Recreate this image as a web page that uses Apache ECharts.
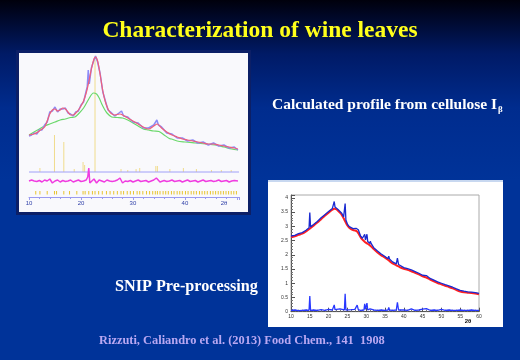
<!DOCTYPE html>
<html><head><meta charset="utf-8">
<script src="https://cdn.jsdelivr.net/npm/echarts@6/dist/echarts.min.js"></script>
<style>html,body{margin:0;padding:0;background:#003399}#c{width:520px;height:360px}</style>
</head><body><div id="c"></div>
<script>
// ---------- LEFT CHART (Rietveld-like profile), intensity in arbitrary units ----------
const leftTicks = ['10', '20', '30', '40'];
const leftCalc = [[10,62],[11,63],[12,66],[12.5,68],[13,70],[13.5,76],[14,83],[14.5,87],[15,88],[15.5,86],[16,87],[16.5,89],[17,88],[17.5,85],[18,82],[18.5,82],[19,84],[19.5,87],[20,91],[20.5,96],[21,104],[21.5,115],[22,128],[22.5,138],[22.8,140],[23.2,136],[23.7,122],[24.2,106],[24.7,95],[25.2,88],[25.7,84],[26.5,82],[27.5,83],[28,82],[29,79],[30,76],[31,73],[32,70],[33,68],[34,71],[34.7,73],[35.5,69],[36.5,65],[37.5,62],[38.5,60],[39.5,58],[40.5,57],[41.5,56],[42.5,55],[43.5,54],[44.5,53],[45.5,53],[46.5,52],[47.5,51],[48.5,50],[49.5,49],[50.2,48]];
const leftObs = [[10,61],[10.5,62],[11,64],[11.5,63],[12,67],[12.5,67],[13,72],[13.5,75],[14,85],[14.5,86],[15,90],[15.5,85],[16,88],[16.5,88],[17,89],[17.5,84],[18,83],[18.5,81],[19,85],[19.5,86],[20,92],[20.5,95],[21,106],[21.2,110],[21.4,127],[21.6,113],[22,129],[22.5,137],[22.8,141],[23.2,135],[23.7,123],[24.2,105],[24.7,96],[25.2,87],[25.7,85],[26.5,81],[27.3,84],[27.8,86],[28.2,81],[29,80],[30,75],[31,74],[32,69],[33,69],[34,72],[34.6,77],[34.9,72],[35.5,70],[36.5,64],[37.5,63],[38.5,59],[39.5,59],[40.5,56],[41.5,57],[42.5,54],[43.5,55],[44.5,52],[45.5,54],[46.5,51],[47.5,52],[48.5,49],[49.5,50],[50.2,47]];
const leftBkg = [[10,62],[12,68],[13,71],[14,73],[15,75],[16,77],[17,78],[18,79.5],[18.8,80],[19.5,83],[20.5,89],[21.5,98],[22.4,104],[23,103],[23.5,99],[24,93],[24.5,88],[25,84],[25.9,80],[27,79.5],[28,79],[29,77],[30,74],[31,71],[32,68],[33,67],[34,66],[35,65.5],[36,62],[37,58.5],[37.4,58],[38.5,56],[40,55],[42,54],[44,53],[45.8,52],[47.5,50],[49,48],[50.2,47]];
const leftDiff = [[10,16],[10.5,17],[11,16],[11.5,15.5],[12,16.5],[12.5,15],[13,17],[13.5,16],[14,18],[14.5,14],[15,16],[15.5,17],[16,15],[16.5,16.5],[17,15.5],[17.5,16],[18,17],[18.5,15],[19,16],[19.5,17],[20,15.5],[20.5,16],[21,17],[21.3,20],[21.5,29],[21.7,14],[22,15],[22.5,18],[23,14],[23.5,17],[24,16],[24.5,15],[25,17],[25.5,16],[26,15.5],[26.5,16],[27,17],[27.5,19],[28,14],[28.5,16],[29,15.5],[29.5,16.5],[30,15],[30.5,16],[31,17],[31.5,15.5],[32,16],[32.5,16.5],[33,15],[33.5,16],[34,17],[34.5,19],[34.8,20],[35.2,15],[35.5,16],[36,16.5],[36.5,15.5],[37,16],[37.5,17],[38,15.5],[38.5,16],[39,16.5],[39.5,15],[40,16],[40.5,17],[41,15.5],[41.5,16],[42,16.5],[42.5,15],[43,16],[43.5,17],[44,15.5],[44.5,16],[45,16.5],[45.5,15.5],[46,16],[46.5,17],[47,15.5],[47.5,16],[48,16.5],[48.5,15],[49,16],[49.5,16.5],[50.2,16]];
// calculated reflection intensities [2theta, height]
const leftSticks = [[12.1,4],[14.9,37],[16.7,30],[18.7,3],[20.4,10],[20.7,7],[22.7,114],[27.7,3],[29.0,2],[30.6,3],[31.3,4],[34.4,6],[34.7,6],[37.1,3],[39.7,4],[42.2,3],[45.1,2],[47.0,2],[48.9,2]];
// Bragg positions
const leftBragg = [11.3,12.1,13.5,14.9,15.3,16.7,17.8,19.2,20.4,20.8,21.5,22.2,22.7,23.4,24.1,24.9,25.6,26.3,27.0,27.7,28.2,28.9,29.5,30.1,30.8,31.3,31.9,32.6,33.2,33.8,34.3,34.7,35.2,35.8,36.3,36.8,37.4,37.9,38.5,39.0,39.5,40.1,40.6,41.2,41.7,42.2,42.8,43.3,43.8,44.3,44.9,45.4,45.9,46.4,46.9,47.4,47.9,48.4,48.9,49.4,49.9];
const stickBase = 25;

// ---------- RIGHT CHART (SNIP pre-processing) ----------
const rightYTicks = ['0','0.5','1','1.5','2','2.5','3','3.5','4'];
const rightXTicks = ['10','15','20','25','30','35','40','45','50','55','60'];
const rightFit = [[10,2.62],[11,2.65],[12,2.70],[13,2.74],[14,2.82],[15,2.92],[16,3.02],[17,3.13],[18,3.25],[19,3.37],[20,3.48],[21,3.58],[21.5,3.62],[22,3.60],[22.5,3.55],[23,3.48],[23.5,3.40],[24,3.28],[24.5,3.15],[25,3.03],[25.5,2.95],[26,2.90],[26.5,2.87],[27,2.85],[27.5,2.83],[28,2.74],[28.5,2.62],[29,2.53],[29.5,2.47],[30,2.42],[31,2.33],[32,2.20],[33,2.08],[34,1.98],[35,1.90],[36,1.80],[37,1.70],[38,1.63],[39,1.56],[40,1.51],[41,1.47],[42,1.42],[43,1.37],[44,1.31],[45,1.24],[46,1.20],[47,1.13],[48,1.07],[49,1.01],[50,0.96],[51,0.91],[52,0.87],[53,0.82],[54,0.76],[55,0.71],[56,0.68],[57,0.67],[58,0.66],[59,0.64],[60,0.61]];
const rightData = [[10,2.66],[10.5,2.70],[11,2.68],[11.5,2.71],[12,2.74],[12.5,2.75],[13,2.78],[13.5,2.80],[14,2.86],[14.5,2.92],[14.8,2.95],[15,3.48],[15.2,2.98],[15.5,3.00],[16,3.06],[16.5,3.12],[17,3.17],[17.5,3.24],[18,3.30],[18.5,3.37],[19,3.41],[19.5,3.48],[20,3.52],[20.5,3.57],[21,3.63],[21.3,3.70],[21.5,3.87],[21.7,3.68],[22,3.65],[22.5,3.59],[23,3.53],[23.5,3.46],[24,3.33],[24.2,3.30],[24.4,3.80],[24.6,3.22],[25,3.08],[25.5,2.99],[26,2.95],[26.5,2.92],[27,2.90],[27.3,2.93],[27.6,2.96],[27.9,2.88],[28.5,2.66],[29,2.58],[29.4,2.55],[29.6,2.72],[29.8,2.52],[30,2.50],[30.2,2.72],[30.4,2.47],[31,2.40],[31.1,2.48],[31.3,2.40],[32,2.25],[33,2.13],[34,2.03],[35,1.94],[35.8,1.86],[36,1.95],[36.2,1.85],[37,1.75],[38,1.68],[38.3,1.88],[38.6,1.66],[39,1.60],[40,1.55],[41,1.51],[42,1.47],[43,1.41],[44,1.35],[45,1.28],[46,1.27],[46.5,1.22],[47,1.17],[48,1.11],[49,1.05],[50,1.00],[51,0.95],[52,0.91],[53,0.86],[54,0.80],[55,0.75],[56,0.72],[57,0.70],[58,0.69],[59,0.67],[60,0.64]];
const rightPeaks = [[10,0.05],[11,0.06],[12,0.04],[13,0.05],[14,0.06],[14.8,0.05],[15,0.55],[15.2,0.05],[16,0.06],[17,0.05],[18,0.07],[19,0.05],[20,0.08],[21,0.06],[21.5,0.24],[21.7,0.07],[22,0.05],[23,0.10],[23.4,0.05],[24.2,0.06],[24.4,0.63],[24.6,0.06],[25,0.05],[26,0.07],[27,0.08],[27.6,0.23],[27.9,0.07],[28.5,0.05],[29.4,0.06],[29.6,0.28],[29.8,0.08],[30,0.06],[30.2,0.30],[30.4,0.06],[31,0.10],[31.1,0.16],[31.3,0.08],[32,0.06],[33,0.05],[34,0.06],[35,0.05],[35.8,0.06],[36,0.15],[36.2,0.06],[37,0.05],[38,0.06],[38.3,0.33],[38.6,0.06],[39,0.05],[40,0.06],[41,0.05],[42,0.10],[43,0.05],[44,0.06],[45,0.09],[46,0.11],[47,0.05],[48,0.06],[49,0.05],[50,0.08],[51,0.05],[52,0.06],[53,0.05],[54,0.05],[55,0.06],[56,0.05],[57,0.05],[58,0.06],[59,0.05],[60,0.05]];

// ---------- TEXTS ----------
const titleText = 'Characterization of wine leaves';
const subText = 'Calculated profile from cellulose I';
const subSub = 'β';
const snipText = 'SNIP Pre-processing';
const citeText = 'Rizzuti, Caliandro et al. (2013) Food Chem., 141  1908';

const SERIF = '"Liberation Serif", "DejaVu Serif", serif';
const mctx = document.createElement('canvas').getContext('2d');
mctx.font = 'bold 15.5px ' + SERIF;
const subW = mctx.measureText(subText).width;

const chart = echarts.init(document.getElementById('c'), null, {renderer: 'canvas'});

function stickItem(params, api) {
  const x = api.value(0), h = api.value(1);
  const p0 = api.coord([x, stickBase]);
  const p1 = api.coord([x, stickBase + h]);
  return {type: 'line', shape: {x1: p0[0], y1: p0[1], x2: p1[0], y2: p1[1]}, style: {stroke: '#f0dc8c', lineWidth: 1}};
}
function braggItem(params, api) {
  const x = api.value(0);
  const p0 = api.coord([x, 2.5]);
  const p1 = api.coord([x, 6]);
  return {type: 'line', shape: {x1: p0[0], y1: p0[1], x2: p1[0], y2: p1[1]}, style: {stroke: '#e8c430', lineWidth: 1}};
}

chart.setOption({
  animation: false,
  backgroundColor: {type: 'linear', x: 0, y: 0, x2: 0, y2: 1, colorStops: [
    {offset: 0, color: '#00000c'}, {offset: 0.06, color: '#000a30'}, {offset: 0.15, color: '#001a66'},
    {offset: 0.3, color: '#002c8e'}, {offset: 0.5, color: '#003399'}, {offset: 1, color: '#003399'}]},
  graphic: [
    {type: 'rect', z: -10, shape: {x: 16, y: 50, width: 235, height: 165}, style: {fill: '#0c1f66'}},
    {type: 'rect', z: -9, shape: {x: 19, y: 53, width: 229, height: 159}, style: {fill: '#f9f9fc'}},
    {type: 'rect', z: -10, shape: {x: 268, y: 180, width: 235, height: 147}, style: {fill: '#ffffff'}},
    {type: 'rect', z: -9, shape: {x: 268, y: 180, width: 235, height: 2}, style: {fill: '#c8d8f0'}},
    {type: 'text', x: 260, y: 31, style: {text: titleText, fill: '#ffff1a', font: 'bold 23.5px ' + SERIF, align: 'center', verticalAlign: 'middle', shadowColor: 'rgba(0,0,0,0.6)', shadowOffsetX: 1, shadowOffsetY: 1, shadowBlur: 1}},
    {type: 'text', x: 272, y: 105, style: {text: subText, fill: '#ffffff', font: 'bold 15.5px ' + SERIF, align: 'left', verticalAlign: 'middle'}},
    {type: 'text', x: 272 + subW + 1, y: 110, style: {text: subSub, fill: '#ffffff', font: 'bold 9px ' + SERIF, align: 'left', verticalAlign: 'middle'}},
    {type: 'text', x: 115, y: 287, style: {text: snipText, fill: '#ffffff', font: 'bold 16.2px ' + SERIF, align: 'left', verticalAlign: 'middle'}},
    {type: 'text', x: 99, y: 341, style: {text: citeText, fill: '#b9a8f2', font: 'bold 12.4px ' + SERIF, align: 'left', verticalAlign: 'middle'}},
    {type: 'text', x: 224, y: 203, style: {text: '2θ', fill: '#3040a8', font: '6px sans-serif', align: 'center', verticalAlign: 'middle'}},
    {type: 'text', x: 468, y: 321, style: {text: '2θ', fill: '#111111', font: 'bold 6px sans-serif', align: 'center', verticalAlign: 'middle'}}
  ],
  grid: [
    {left: 29, right: 281, top: 53, bottom: 163},
    {left: 291, right: 41, top: 195, bottom: 48.3, show: true, borderColor: '#aaaaaa', borderWidth: 1, backgroundColor: 'transparent'}
  ],
  xAxis: [
    {gridIndex: 0, type: 'value', min: 10, max: 50.4, interval: 10,
      axisLine: {lineStyle: {color: '#9a9af0', width: 1}},
      axisTick: {lineStyle: {color: '#9a9af0'}, length: 3},
      minorTick: {show: true, splitNumber: 5, length: 2, lineStyle: {color: '#9a9af0'}},
      splitLine: {show: false},
      axisLabel: {fontSize: 6, color: '#3040a8', margin: 3,
        formatter: v => leftTicks.includes(String(v)) ? String(v) : ''}},
    {gridIndex: 1, type: 'value', min: 10, max: 60, interval: 5,
      axisLine: {lineStyle: {color: '#555555', width: 1}},
      axisTick: {inside: true, length: 4, lineStyle: {color: '#555555'}},
      minorTick: {show: true, splitNumber: 5, length: 2, lineStyle: {color: '#777777'}},
      splitLine: {show: false},
      axisLabel: {fontSize: 5, color: '#333333', margin: 2,
        formatter: v => rightXTicks.includes(String(v)) ? String(v) : ''}}
  ],
  yAxis: [
    {gridIndex: 0, type: 'value', min: 0, max: 144, show: false},
    {gridIndex: 1, type: 'value', min: 0, max: 4.1, interval: 0.5,
      axisLine: {show: true, lineStyle: {color: '#555555', width: 1}},
      axisTick: {show: true, inside: true, length: 4, lineStyle: {color: '#555555'}},
      minorTick: {show: true, splitNumber: 5, length: 2, lineStyle: {color: '#777777'}},
      splitLine: {show: false},
      axisLabel: {fontSize: 5, color: '#333333', margin: 3,
        formatter: v => { const s = String(Math.round(v * 10) / 10); return rightYTicks.includes(s) ? s : ''; }}}
  ],
  series: [
    {type: 'custom', xAxisIndex: 0, yAxisIndex: 0, renderItem: stickItem, data: leftSticks, z: 1},
    {type: 'line', xAxisIndex: 0, yAxisIndex: 0, data: [[10, stickBase], [50.4, stickBase]], symbol: 'none', lineStyle: {color: '#a0a0f8', width: 1}},
    {type: 'custom', xAxisIndex: 0, yAxisIndex: 0, renderItem: braggItem, data: leftBragg.map(v => [v])},
    {type: 'line', xAxisIndex: 0, yAxisIndex: 0, data: leftDiff, symbol: 'none', lineStyle: {color: '#f03ce0', width: 1.5}},
    {type: 'line', xAxisIndex: 0, yAxisIndex: 0, data: leftBkg, symbol: 'none', smooth: 0.3, lineStyle: {color: '#6ad86a', width: 1.2}},
    {type: 'line', xAxisIndex: 0, yAxisIndex: 0, data: leftObs, symbol: 'none', lineStyle: {color: '#8c8cf8', width: 1.5}},
    {type: 'line', xAxisIndex: 0, yAxisIndex: 0, data: leftCalc, symbol: 'none', smooth: 0.3, lineStyle: {color: '#f0607a', width: 1.2}},
    {type: 'line', xAxisIndex: 1, yAxisIndex: 1, data: rightFit, symbol: 'none', smooth: 0.3, lineStyle: {color: '#ff2020', width: 2}},
    {type: 'line', xAxisIndex: 1, yAxisIndex: 1, data: rightData, symbol: 'none', lineStyle: {color: '#1a2ad0', width: 1.3}},
    {type: 'line', xAxisIndex: 1, yAxisIndex: 1, data: rightPeaks, symbol: 'none', lineStyle: {color: '#2838ff', width: 1.3}}
  ]
});
</script></body></html>
